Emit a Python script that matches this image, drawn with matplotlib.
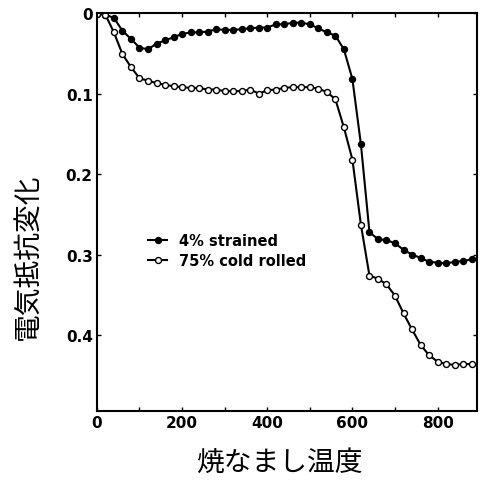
import matplotlib
matplotlib.use("Agg")
import matplotlib.pyplot as plt
from matplotlib.ticker import FuncFormatter

plt.rcParams['font.family'] = ['DejaVu Sans', 'Noto Sans CJK JP']

# annealing temperature
temp = [0, 20, 40, 60, 80, 100, 120, 140, 160, 180, 200, 220, 240, 260, 280,
        300, 320, 340, 360, 380, 400, 420, 440, 460, 480, 500, 520, 540, 560,
        580, 600, 620, 640, 660, 680, 700, 720, 740, 760, 780, 800, 820, 840,
        860, 880]

strained = [0.001, 0.002, 0.006, 0.022, 0.032, 0.043, 0.045, 0.038, 0.034,
            0.030, 0.026, 0.024, 0.024, 0.023, 0.020, 0.021, 0.021, 0.020,
            0.019, 0.018, 0.018, 0.014, 0.014, 0.012, 0.012, 0.014, 0.019,
            0.024, 0.028, 0.045, 0.082, 0.163, 0.272, 0.281, 0.282, 0.286,
            0.294, 0.300, 0.304, 0.309, 0.310, 0.311, 0.309, 0.308, 0.306]

cold_rolled = [0.001, 0.002, 0.024, 0.051, 0.067, 0.081, 0.084, 0.087, 0.089,
               0.091, 0.092, 0.093, 0.093, 0.095, 0.095, 0.097, 0.097, 0.097,
               0.095, 0.100, 0.096, 0.095, 0.093, 0.092, 0.092, 0.092, 0.094,
               0.098, 0.107, 0.142, 0.182, 0.263, 0.326, 0.330, 0.337, 0.351,
               0.373, 0.393, 0.412, 0.425, 0.433, 0.436, 0.437, 0.436, 0.436]

labels = ['4% strained', '75% cold rolled']
xticks = [0, 200, 400, 600, 800]
yticks = [0, 0.1, 0.2, 0.3, 0.4]

fig = plt.figure(figsize=(4.82, 4.85), dpi=100)
ax = fig.add_axes([0.201, 0.151, 0.789, 0.820])

ax.plot(temp, strained, '-o', color='black', lw=1.5, ms=4.3,
        mfc='black', mec='black', label=labels[0])
ax.plot(temp, cold_rolled, '-o', color='black', lw=1.5, ms=4.3,
        mfc='white', mec='black', mew=1.0, label=labels[1])

ax.set_xlim(0, 893)
ax.set_ylim(0.494, 0)
ax.set_xticks(xticks)
ax.set_xticks(range(100, 900, 200), minor=True)
ax.set_yticks(yticks)
ax.yaxis.set_major_formatter(FuncFormatter(lambda v, p: '0' if v == 0 else '{:.1f}'.format(v)))
ax.tick_params(which='both', direction='in', top=True, right=True,
               length=3, width=1, labelsize=11, pad=3)
for lab in ax.get_xticklabels() + ax.get_yticklabels():
    lab.set_fontweight('bold')
for s in ax.spines.values():
    s.set_linewidth(1.5)

leg = ax.legend(loc='upper left', bbox_to_anchor=(0.10, 0.48), frameon=False,
                handlelength=1.3, handletextpad=0.8, labelspacing=0.35,
                prop={'weight': 'bold', 'size': 10.5})

fig.text(0.58, 0.045, '焼なまし温度', ha='center', va='center', fontsize=20,
         family=['Noto Sans CJK JP'])
fig.text(0.058, 0.47, '電気抵抗変化', ha='center', va='center', fontsize=20,
         rotation=90, family=['Noto Sans CJK JP'])

fig.savefig('out.png', dpi=100)
